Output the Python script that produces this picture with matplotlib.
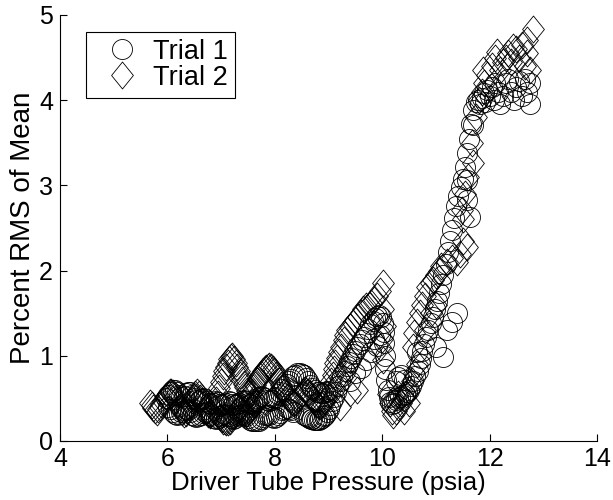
#!/usr/bin/env python3

import numpy as np
import matplotlib
matplotlib.use('Agg')
import matplotlib.pyplot as plt
from matplotlib.path import Path
from matplotlib.lines import Line2D

plt.rcParams['font.family'] = ['Liberation Sans', 'DejaVu Sans']

# Trial 1 (circles): (pressure, % RMS)
trial1 = [
    # low band, upper
    (5.98, 0.50), (6.02, 0.54), (6.06, 0.58), (6.10, 0.60), (6.14, 0.60), (6.18, 0.57),
    (6.22, 0.54), (6.26, 0.52), (6.30, 0.53), (6.34, 0.56), (6.38, 0.58), (6.42, 0.57),
    (6.46, 0.54), (6.50, 0.50), (6.54, 0.48), (6.58, 0.47), (6.62, 0.49), (6.66, 0.50),
    (6.70, 0.49), (6.74, 0.47), (6.78, 0.45), (6.82, 0.44), (6.86, 0.45), (6.90, 0.47),
    (6.94, 0.46), (6.98, 0.44), (7.02, 0.42), (7.06, 0.43), (7.10, 0.45), (7.14, 0.47),
    (7.18, 0.46), (7.22, 0.44), (7.26, 0.42), (7.30, 0.43), (7.34, 0.45), (7.38, 0.47),
    (7.42, 0.48), (7.46, 0.47), (7.50, 0.45), (7.54, 0.44), (7.58, 0.45), (7.62, 0.47),
    (7.66, 0.50), (7.70, 0.52), (7.74, 0.53), (7.78, 0.52), (7.82, 0.50), (7.86, 0.48),
    (7.90, 0.47), (7.94, 0.48), (7.98, 0.50), (8.02, 0.52), (8.06, 0.55), (8.10, 0.58),
    (8.14, 0.61), (8.18, 0.64), (8.22, 0.67), (8.26, 0.70), (8.30, 0.73), (8.34, 0.76),
    (8.38, 0.78), (8.42, 0.80), (8.46, 0.80), (8.50, 0.79), (8.54, 0.77), (8.58, 0.74),
    (8.62, 0.70), (8.66, 0.66), (8.70, 0.62), (8.74, 0.60), (8.78, 0.58), (8.82, 0.57),
    (8.86, 0.56), (8.90, 0.56), (8.94, 0.57), (8.98, 0.59),
    # low band, lower
    (6.02, 0.40), (6.06, 0.37), (6.10, 0.34), (6.14, 0.32), (6.18, 0.31), (6.22, 0.32),
    (6.26, 0.34), (6.30, 0.36), (6.34, 0.37), (6.38, 0.36), (6.42, 0.34), (6.46, 0.31),
    (6.50, 0.29), (6.54, 0.28), (6.58, 0.29), (6.62, 0.31), (6.66, 0.33), (6.70, 0.34),
    (6.74, 0.33), (6.78, 0.31), (6.82, 0.29), (6.86, 0.27), (6.90, 0.26), (6.94, 0.27),
    (6.98, 0.29), (7.02, 0.31), (7.06, 0.32), (7.10, 0.31), (7.14, 0.29), (7.18, 0.27),
    (7.22, 0.26), (7.26, 0.27), (7.30, 0.29), (7.34, 0.31), (7.38, 0.32), (7.42, 0.31),
    (7.46, 0.29), (7.50, 0.27), (7.54, 0.25), (7.58, 0.24), (7.62, 0.23), (7.66, 0.23),
    (7.70, 0.24), (7.74, 0.26), (7.78, 0.28), (7.82, 0.30), (7.86, 0.31), (7.90, 0.30),
    (7.94, 0.28), (7.98, 0.27), (8.02, 0.28), (8.06, 0.30), (8.10, 0.33), (8.14, 0.36),
    (8.18, 0.38), (8.22, 0.39), (8.26, 0.38), (8.30, 0.36), (8.34, 0.34),
    # low right rings
    (8.55, 0.30), (8.58, 0.29), (8.61, 0.28), (8.64, 0.27), (8.67, 0.26), (8.70, 0.26),
    (8.73, 0.25), (8.76, 0.25), (8.79, 0.25), (8.82, 0.25), (8.85, 0.26), (8.88, 0.27),
    (8.91, 0.29), (8.94, 0.31), (8.97, 0.34), (9.00, 0.37),
    # first rise
    (9.02, 0.42), (9.06, 0.47), (9.10, 0.52), (9.14, 0.58), (9.18, 0.64), (9.22, 0.70),
    (9.26, 0.76), (9.30, 0.82), (9.34, 0.88), (9.38, 0.93), (9.42, 0.98), (9.46, 1.02),
    (9.50, 1.06), (9.54, 1.10), (9.58, 1.14), (9.62, 1.18), (9.66, 1.22), (9.70, 1.27),
    (9.74, 1.32), (9.78, 1.37), (9.82, 1.41), (9.86, 1.44), (9.90, 1.47), (9.94, 1.48),
    (9.98, 1.45), (10.01, 1.38), (10.03, 1.28), (10.04, 1.15), (10.05, 1.00),
    (9.40, 0.70), (9.50, 0.80), (9.60, 0.86), (9.70, 0.95), (9.80, 1.05), (9.90, 1.12),
    (9.95, 1.25), (9.85, 1.20),
    # dip
    (10.06, 0.85), (10.08, 0.72), (10.10, 0.60), (10.12, 0.52), (10.15, 0.46), (10.18, 0.44),
    (10.22, 0.45), (10.26, 0.48), (10.30, 0.50), (10.34, 0.52), (10.38, 0.54), (10.42, 0.55),
    (10.46, 0.57), (10.50, 0.60), (10.54, 0.64), (10.58, 0.70), (10.62, 0.76), (10.66, 0.82),
    (10.70, 0.90), (10.25, 0.70), (10.30, 0.75), (10.35, 0.78), (10.40, 0.72),
    # second rise
    (10.72, 0.98), (10.75, 1.06), (10.78, 1.14), (10.82, 1.22), (10.86, 1.30), (10.90, 1.38),
    (10.94, 1.46), (10.98, 1.55), (11.02, 1.64), (11.06, 1.74), (11.10, 1.84), (11.14, 1.95),
    (11.18, 2.08), (11.22, 2.22), (11.26, 2.35), (11.30, 2.48), (11.34, 2.62), (11.38, 2.76),
    (11.42, 2.88), (11.46, 2.98), (11.50, 3.08), (11.54, 3.22), (11.58, 3.38), (11.62, 3.55),
    (11.66, 3.72), (11.70, 3.88), (11.74, 3.98),
    (11.13, 0.99), (11.00, 1.10), (11.20, 1.30), (11.30, 1.40), (11.39, 1.50), (10.65, 1.05),
    (11.58, 3.06), (11.58, 2.83), (11.63, 2.63), (11.69, 3.71),
    # top cluster
    (11.78, 4.00), (11.82, 3.95), (11.86, 4.02), (11.90, 4.08), (11.95, 4.12), (12.00, 4.05),
    (12.05, 4.15), (12.10, 4.20), (12.15, 4.10), (12.20, 3.95), (12.25, 4.05), (12.30, 4.20),
    (12.35, 4.25), (12.40, 4.10), (12.45, 4.00), (12.50, 4.15), (12.55, 4.22), (12.60, 4.05),
    (12.65, 4.25), (12.70, 4.10), (12.75, 4.20), (11.92, 3.98), (12.08, 4.00), (12.75, 3.95),
]

# Trial 2 (diamonds)
trial2 = [
    # low zigzag
    (5.68, 0.45), (5.71, 0.42), (5.74, 0.39), (5.77, 0.36), (5.80, 0.34), (5.83, 0.37),
    (5.86, 0.40), (5.89, 0.44), (5.92, 0.47), (5.95, 0.50), (5.98, 0.53), (6.01, 0.55),
    (6.04, 0.57), (6.07, 0.58), (6.10, 0.56), (6.13, 0.52), (6.16, 0.48), (6.19, 0.44),
    (6.22, 0.40), (6.25, 0.37), (6.28, 0.34), (6.31, 0.32), (6.34, 0.33), (6.37, 0.36),
    (6.40, 0.40), (6.43, 0.44), (6.46, 0.48), (6.49, 0.52), (6.52, 0.55), (6.55, 0.57),
    (6.58, 0.55), (6.61, 0.51), (6.64, 0.47), (6.67, 0.43), (6.70, 0.39), (6.73, 0.35),
    (6.76, 0.32), (6.79, 0.30), (6.82, 0.33), (6.85, 0.37), (6.88, 0.42), (6.91, 0.48),
    (6.94, 0.55), (6.97, 0.62), (7.00, 0.69), (7.03, 0.76), (7.06, 0.82), (7.09, 0.87),
    (7.12, 0.92), (7.15, 0.96), (7.18, 0.99), (7.21, 1.00), (7.24, 0.96), (7.27, 0.92),
    (7.30, 0.87), (7.33, 0.82), (7.36, 0.77), (7.39, 0.72), (7.42, 0.67), (7.45, 0.63),
    (7.48, 0.59), (7.51, 0.56), (7.54, 0.55), (7.57, 0.58), (7.60, 0.62), (7.63, 0.66),
    (7.66, 0.70), (7.69, 0.73), (7.72, 0.76), (7.75, 0.79), (7.78, 0.82), (7.81, 0.84),
    (7.84, 0.86), (7.87, 0.87), (7.90, 0.88), (7.93, 0.87), (7.96, 0.85), (7.99, 0.82),
    (8.02, 0.78), (8.05, 0.74), (8.08, 0.70), (8.11, 0.66), (8.14, 0.62), (8.17, 0.58),
    (8.20, 0.55), (8.23, 0.52), (8.26, 0.50), (8.29, 0.48), (8.32, 0.46), (8.35, 0.45),
    (8.38, 0.46), (8.41, 0.48), (8.44, 0.50), (8.47, 0.53), (8.50, 0.56), (8.53, 0.58),
    (8.56, 0.60), (8.59, 0.59), (8.62, 0.57), (8.65, 0.55), (8.68, 0.52), (8.71, 0.49),
    (8.74, 0.46), (8.77, 0.44), (8.80, 0.42), (8.83, 0.41), (8.86, 0.42), (8.89, 0.44),
    (8.92, 0.47), (8.95, 0.50),
    # low lower trail
    (6.95, 0.30), (6.98, 0.28), (7.01, 0.26), (7.04, 0.24), (7.07, 0.23), (7.10, 0.22),
    (7.13, 0.22), (7.16, 0.24), (7.19, 0.27), (7.22, 0.30), (7.25, 0.33), (7.28, 0.35),
    (7.31, 0.37), (7.34, 0.38), (7.37, 0.37), (7.40, 0.35), (7.43, 0.33), (7.46, 0.32),
    (7.49, 0.33), (7.52, 0.35), (7.55, 0.38), (7.58, 0.41), (7.61, 0.43), (7.64, 0.45),
    (7.67, 0.46),
    # first rise
    (8.98, 0.55), (9.02, 0.62), (9.05, 0.70), (9.08, 0.78), (9.10, 0.85), (9.13, 0.92),
    (9.16, 0.98), (9.20, 1.05), (9.24, 1.10), (9.28, 1.18), (9.31, 1.24), (9.35, 1.30),
    (9.40, 1.34), (9.45, 1.38), (9.50, 1.42), (9.55, 1.45), (9.60, 1.50), (9.65, 1.55),
    (9.70, 1.58), (9.75, 1.60), (9.80, 1.62), (9.85, 1.66), (9.90, 1.70), (9.95, 1.76),
    (10.01, 1.85), (9.10, 0.60), (9.20, 0.75), (9.30, 0.85), (9.40, 0.95), (9.53, 0.60),
    (9.40, 0.56), (9.21, 0.40), (10.02, 1.55), (10.05, 1.35), (10.00, 1.20), (9.95, 1.10),
    (10.02, 0.95),
    # dip
    (10.10, 0.55), (10.15, 0.45), (10.18, 0.35), (10.20, 0.30), (10.25, 0.35), (10.30, 0.40),
    (10.35, 0.45), (10.40, 0.50), (10.45, 0.55), (10.50, 0.60), (10.55, 0.70), (10.60, 0.80),
    (10.65, 0.90), (10.50, 0.45), (10.40, 0.35), (10.30, 0.55),
    # second rise
    (10.57, 1.10), (10.60, 1.27), (10.65, 1.40), (10.70, 1.50), (10.74, 1.60), (10.80, 1.70),
    (10.83, 1.81), (10.90, 1.85), (10.95, 1.89), (11.00, 1.95), (11.05, 2.00), (11.10, 2.05),
    (11.20, 2.10), (11.30, 2.15), (11.39, 2.10), (11.45, 2.20), (11.50, 2.35), (11.58, 2.28),
    (11.50, 2.60), (11.49, 2.71), (11.55, 2.90), (11.60, 3.10), (11.69, 3.26), (11.67, 3.50),
    (11.75, 3.80), (11.80, 4.00), (10.90, 1.50), (11.00, 1.60), (10.80, 1.30),
    # top
    (11.85, 4.10), (11.88, 4.35), (11.90, 4.20), (11.95, 4.30), (12.05, 4.40), (12.10, 4.50),
    (12.14, 4.57), (12.20, 4.35), (12.25, 4.45), (12.30, 4.50), (12.35, 4.55), (12.40, 4.45),
    (12.44, 4.62), (12.50, 4.60), (12.55, 4.50), (12.60, 4.65), (12.65, 4.40), (12.70, 4.71),
    (12.75, 4.35), (12.81, 4.84), (12.70, 4.55),
]

x_ticks = [4, 6, 8, 10, 12, 14]
y_ticks = [0, 1, 2, 3, 4, 5]

t1_x, t1_y = np.array(trial1).T
t2_x, t2_y = np.array(trial2).T

# taller-than-wide diamond like MATLAB's
diamond = Path([(0, 1), (0.81, 0), (0, -1), (-0.81, 0), (0, 1)],
               [Path.MOVETO, Path.LINETO, Path.LINETO, Path.LINETO, Path.CLOSEPOLY])

fig = plt.figure(figsize=(6.13, 5.0), dpi=100)
ax = fig.add_axes([60 / 613, 59 / 500, 537 / 613, 426 / 500])

ax.plot(t1_x, t1_y, ls='none', marker='o', ms=14.4, mfc='none', mec='k', mew=0.6)
ax.plot(t2_x, t2_y, ls='none', marker=diamond, ms=19.4, mfc='none', mec='k', mew=0.6)

ax.set_xlim(4, 14)
ax.set_ylim(0, 5)
ax.set_xticks(x_ticks)
ax.set_yticks(y_ticks)
ax.spines['top'].set_visible(False)
ax.spines['right'].set_visible(False)
for s in ('left', 'bottom'):
    ax.spines[s].set_linewidth(0.8)
ax.tick_params(direction='in', length=5, width=0.8, labelsize=18)
ax.tick_params(axis='x', pad=4)
ax.tick_params(axis='y', pad=5)
ax.set_xlabel('Driver Tube Pressure (psia)', fontsize=18.5, labelpad=0)
ax.set_ylabel('Percent RMS of Mean', fontsize=20, labelpad=2)

handles = [
    Line2D([], [], ls='none', marker='o', ms=14.4, mfc='none', mec='k', mew=0.6),
    Line2D([], [], ls='none', marker=diamond, ms=19.4, mfc='none', mec='k', mew=0.6),
]
leg = ax.legend(handles, ['Trial 1', 'Trial 2'], loc='upper left',
                bbox_to_anchor=(0.048, 0.96), borderaxespad=0, fontsize=19.5,
                fancybox=False, edgecolor='k', framealpha=1, handlelength=2.2,
                handletextpad=0.05, borderpad=0.25, labelspacing=0.0)
leg.get_frame().set_linewidth(0.8)

fig.savefig('out.png', dpi=100)
